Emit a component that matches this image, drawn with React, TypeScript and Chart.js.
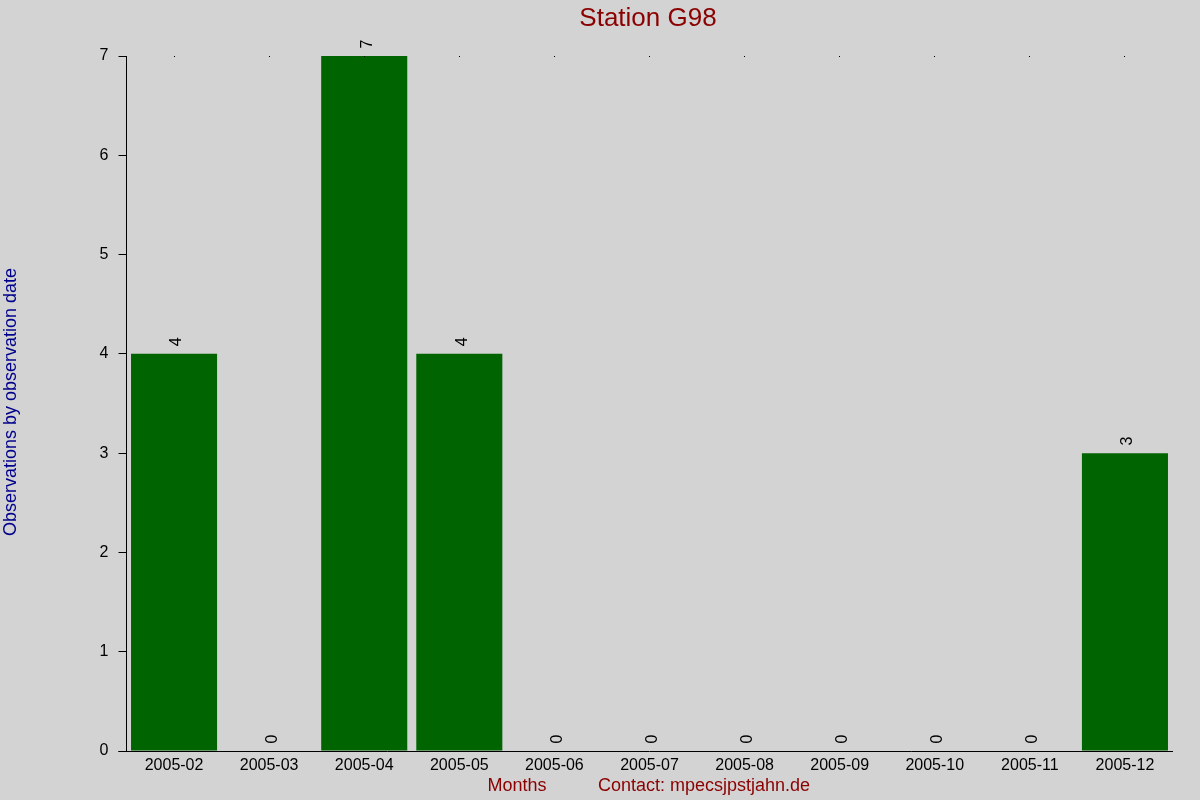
import React, { useEffect, useRef } from "react";
import { Chart, registerables } from "chart.js";

Chart.register(...registerables);

const categories = [
  "2005-02", "2005-03", "2005-04", "2005-05", "2005-06", "2005-07",
  "2005-08", "2005-09", "2005-10", "2005-11", "2005-12",
];
const observations = [4, 0, 7, 4, 0, 0, 0, 0, 0, 0, 3];
const yTicks = [0, 1, 2, 3, 4, 5, 6, 7];

const chartTitle = "Station G98";
const yTitle = "Observations by observation date";
const xTitle = "Months";
const contactText = "Contact: mpecsjpstjahn.de";

const FONT = "'Liberation Sans', Arial, sans-serif";

const decorPlugin = {
  id: "decor",
  beforeDraw(chart: any) {
    const { ctx, width, height } = chart;
    ctx.save();
    ctx.fillStyle = "#d3d3d3";
    ctx.fillRect(0, 0, width, height);
    ctx.restore();
  },
  afterDraw(chart: any) {
    const { ctx, chartArea } = chart;
    const xs = chart.scales.x;
    const ys = chart.scales.y;
    ctx.save();
    // top dots at each category
    ctx.fillStyle = "#000";
    categories.forEach((_, i) => {
      const x = xs.getPixelForValue(i);
      ctx.fillRect(Math.floor(x), Math.floor(ys.getPixelForValue(ys.max)), 1, 1);
    });
    // extend x axis line to the left
    ctx.strokeStyle = "#000";
    ctx.lineWidth = 1;
    ctx.beginPath();
    ctx.moveTo(chartArea.left - 8, Math.round(chartArea.bottom) + 0.5);
    ctx.lineTo(chartArea.left, Math.round(chartArea.bottom) + 0.5);
    ctx.stroke();

    // value labels
    const meta = chart.getDatasetMeta(0);
    ctx.fillStyle = "#000";
    ctx.font = `16px ${FONT}`;
    ctx.textAlign = "center";
    ctx.textBaseline = "middle";
    meta.data.forEach((bar: any, i: number) => {
      ctx.save();
      ctx.translate(bar.x + 3, bar.y - 12);
      ctx.rotate(-Math.PI / 2);
      ctx.fillText(String(observations[i]), 0, 0);
      ctx.restore();
    });

    // title
    ctx.fillStyle = "#8b0000";
    ctx.font = `26px ${FONT}`;
    ctx.textAlign = "center";
    ctx.textBaseline = "middle";
    ctx.fillText(chartTitle, 648, 19);

    // y title
    ctx.save();
    ctx.fillStyle = "#00008b";
    ctx.font = `18px ${FONT}`;
    ctx.translate(11, 402);
    ctx.rotate(-Math.PI / 2);
    ctx.fillText(yTitle, 0, 0);
    ctx.restore();

    // x titles
    ctx.fillStyle = "#8b0000";
    ctx.font = `18px ${FONT}`;
    ctx.fillText(xTitle, 517, 786);
    ctx.fillText(contactText, 704, 786);
    ctx.restore();
  },
};

export default function App() {
  const ref = useRef<HTMLCanvasElement | null>(null);

  useEffect(() => {
    document.body.style.margin = "0";
    const canvas = ref.current;
    if (!canvas) return;
    const chart = new Chart(canvas, {
      type: "bar",
      data: {
        labels: categories,
        datasets: [
          {
            data: observations,
            backgroundColor: "#006400",
            borderWidth: 0,
            barPercentage: 0.905,
            categoryPercentage: 1,
          },
        ],
      },
      options: {
        animation: false,
        responsive: false,
        maintainAspectRatio: false,
        layout: { padding: { top: 56, right: 27.5, left: 0, bottom: 0 } },
        plugins: {
          legend: { display: false },
          title: { display: false },
          tooltip: { enabled: false },
        },
        scales: {
          x: {
            grid: { display: false, drawTicks: false },
            border: { display: true, color: "#000", width: 1 },
            ticks: {
              color: "#000",
              font: { family: FONT, size: 16 },
              padding: 5,
              maxRotation: 0,
              autoSkip: false,
            },
            afterFit(scale: any) {
              scale.height = 49;
            },
          },
          y: {
            min: 0,
            max: 7,
            afterBuildTicks(scale: any) {
              scale.ticks = yTicks.map((v) => ({ value: v }));
            },
            grid: {
              drawOnChartArea: false,
              drawTicks: true,
              tickLength: 8,
              color: "#000",
            },
            border: { display: true, color: "#000", width: 1 },
            ticks: {
              color: "#000",
              font: { family: FONT, size: 16 },
              padding: 10,
            },
            afterFit(scale: any) {
              scale.width = 126.5;
            },
          },
        },
      },
      plugins: [decorPlugin],
    });
    return () => chart.destroy();
  }, []);

  return (
    <div style={{ position: "fixed", left: 0, top: 0, width: 1200, height: 800, background: "#d3d3d3" }}>
      <canvas ref={ref} width={1200} height={800} style={{ width: 1200, height: 800, display: "block" }} />
    </div>
  );
}
